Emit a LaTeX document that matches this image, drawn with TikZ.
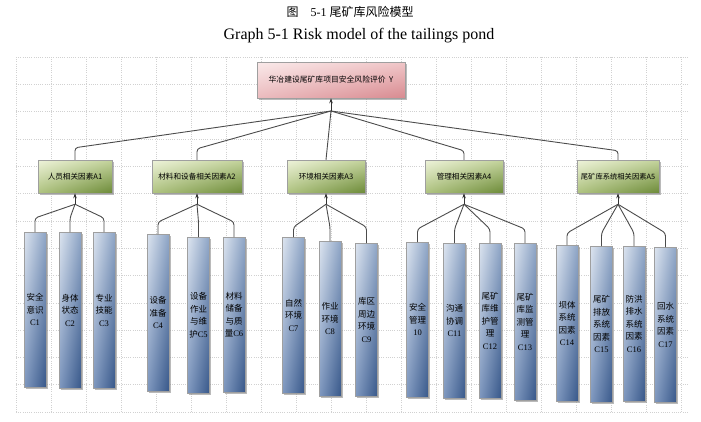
\documentclass[tikz,border=0pt]{standalone}
\usepackage{fontspec}
\setmainfont{Liberation Serif}
\newfontfamily\cjk{Noto Sans CJK SC}
\usetikzlibrary{shadows,shadings,arrows.meta}
\definecolor{rA}{HTML}{FAEAEA}\definecolor{rB}{HTML}{F0C6C8}\definecolor{rC}{HTML}{EBBBBE}\definecolor{rD}{HTML}{D88A90}
\definecolor{gA}{HTML}{EEF3DA}\definecolor{gB}{HTML}{C3D39B}\definecolor{gC}{HTML}{AFC380}\definecolor{gD}{HTML}{6C8A38}
\definecolor{bA}{HTML}{DCE4EF}\definecolor{bB}{HTML}{8EA5C6}\definecolor{bC}{HTML}{7F98BF}\definecolor{bD}{HTML}{38588A}
\tikzset{
  box/.style={draw=gray!75, line width=0.5pt, inner sep=0pt,
    drop shadow={shadow xshift=1.5pt, shadow yshift=-1.5pt, fill=black!45, opacity=0.6}},
  rootbox/.style={box, minimum width=148pt, minimum height=36pt,
    upper left=rA, upper right=rB, lower left=rC, lower right=rD,
    font=\cjk\fontsize{7.8}{9}\selectfont},
  abox/.style={box, minimum height=33pt,
    upper left=gA, upper right=gB, lower left=gC, lower right=gD,
    font=\cjk\fontsize{7.6}{9}\selectfont},
  cbox/.style={box, anchor=north, minimum width=22pt, align=center,
    upper left=bA, upper right=bB, lower left=bC, lower right=bD,
    font=\fontsize{8.5}{12.5}\selectfont},
  conn/.style={draw=black!70, line width=0.9pt, rounded corners=3pt},
  uparrow/.style={-{Stealth[length=5pt,width=3.5pt]}, draw=black!80, line width=0.7pt},
  gridline/.style={black!18, line width=0.4pt, dash pattern=on 1pt off 1.2pt}
}
\begin{document}
\begin{tikzpicture}[x=1pt,y=-1pt]
\useasboundingbox[fill=white] (0,0) rectangle (701,421);
% grid
\foreach \i in {0,...,13}{\draw[gridline] (16,{57+27.3*\i}) -- (689,{57+27.3*\i});}
\foreach \x in {16,51,...,689}{\draw[gridline] (\x,57) -- (\x,412);}
% titles
\node[font=\fontsize{12}{14}\selectfont] (t1) at (350,12) {{\cjk 图}\quad 5-1 {\cjk 尾矿库风险模型}};
\node[font=\fontsize{16}{18}\selectfont] (t2) at (359,36) {Graph 5-1 Risk model of the tailings pond};
% root
\node[rootbox] (root) at (331,80) {华冶建设尾矿库项目安全风险评价\ \ Y};
% A level
\node[abox, minimum width=74pt] (a1) at (75,176.5) {人员相关因素A1};
\node[abox, minimum width=90pt] (a2) at (197,176.5) {材料和设备相关因素A2};
\node[abox, minimum width=78pt] (a3) at (326,176.5) {环境相关因素A3};
\node[abox, minimum width=78pt] (a4) at (464,176.5) {管理相关因素A4};
\node[abox, minimum width=82pt, font=\cjk\fontsize{7.3}{9}\selectfont] (a5) at (618,176.5) {尾矿库系统相关因素A5};
% C level
\node[cbox, minimum height=155pt] (c1) at (35,232) {{\cjk 安全}\\{\cjk 意识}\\C1};
\node[cbox, minimum height=156pt] (c2) at (70,232) {{\cjk 身体}\\{\cjk 状态}\\C2};
\node[cbox, minimum height=156pt] (c3) at (104,232) {{\cjk 专业}\\{\cjk 技能}\\C3};
\node[cbox, minimum height=157pt] (c4) at (158,234) {{\cjk 设备}\\{\cjk 准备}\\C4};
\node[cbox, minimum height=156pt] (c5) at (198.5,237) {{\cjk 设备}\\{\cjk 作业}\\{\cjk 与维}\\{\cjk 护}C5};
\node[cbox, minimum height=155pt] (c6) at (234,237) {{\cjk 材料}\\{\cjk 储备}\\{\cjk 与质}\\{\cjk 量}C6};
\node[cbox, minimum height=156pt] (c7) at (293.5,237) {{\cjk 自然}\\{\cjk 环境}\\C7};
\node[cbox, minimum height=155pt] (c8) at (330,241) {{\cjk 作业}\\{\cjk 环境}\\C8};
\node[cbox, minimum height=153pt] (c9) at (366.5,243) {{\cjk 库区}\\{\cjk 周边}\\{\cjk 环境}\\C9};
\node[cbox, minimum height=155pt] (c10) at (417.5,242) {{\cjk 安全}\\{\cjk 管理}\\10};
\node[cbox, minimum height=155pt] (c11) at (454.5,243) {{\cjk 沟通}\\{\cjk 协调}\\C11};
\node[cbox, minimum height=155pt] (c12) at (490,243) {{\cjk 尾矿}\\{\cjk 库维}\\{\cjk 护管}\\{\cjk 理}\\C12};
\node[cbox, minimum height=157pt] (c13) at (525,243) {{\cjk 尾矿}\\{\cjk 库监}\\{\cjk 测管}\\{\cjk 理}\\C13};
\node[cbox, minimum height=156pt] (c14) at (567,245) {{\cjk 坝体}\\{\cjk 系统}\\{\cjk 因素}\\C14};
\node[cbox, minimum height=156pt] (c15) at (601.5,246) {{\cjk 尾矿}\\{\cjk 排放}\\{\cjk 系统}\\{\cjk 因素}\\C15};
\node[cbox, minimum height=155pt] (c16) at (634,246) {{\cjk 防洪}\\{\cjk 排水}\\{\cjk 系统}\\{\cjk 因素}\\C16};
\node[cbox, minimum height=155pt] (c17) at (665.5,247) {{\cjk 回水}\\{\cjk 系统}\\{\cjk 因素}\\C17};
% top connectors
\coordinate (rj) at (331,111);
\draw[conn] (rj) -- ([yshift=12pt]a1.north) -- (a1.north);
\draw[conn] (rj) -- ([yshift=11pt]a2.north) -- (a2.north);
\draw[conn] (rj) -- (a3.north);
\draw[conn] (rj) -- ([yshift=9pt]a4.north) -- (a4.north);
\draw[conn] (rj) -- ([yshift=9pt]a5.north) -- (a5.north);
\draw[uparrow] (rj) -- (root.south);
% bottom connectors
\foreach \a/\by/\cs in {a1/218/{c1,c2,c3}, a2/222/{c4,c5,c6}, a3/227/{c7,c8,c9}, a4/229/{c10,c11,c12,c13}, a5/233/{c14,c15,c16,c17}}{
  \coordinate (j-\a) at ([yshift=-11pt]\a.south);
  \foreach \c in \cs {\draw[conn] (j-\a) -- (\c.north |- 0,\by) -- (\c.north);}
  \draw[uparrow] (j-\a) -- (\a.south);
}
\end{tikzpicture}
\end{document}
